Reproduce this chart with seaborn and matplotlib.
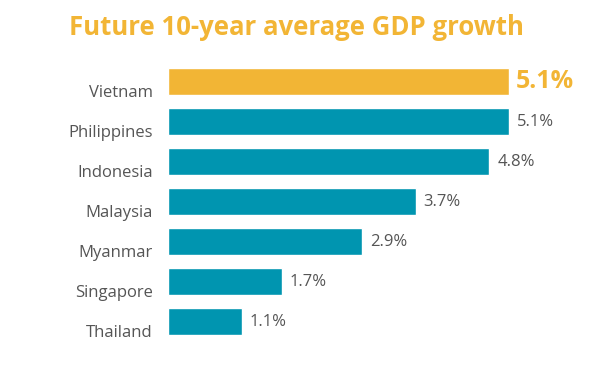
import matplotlib
matplotlib.use('Agg')
import matplotlib.pyplot as plt
import matplotlib.transforms as mtransforms
import seaborn as sns
import pandas as pd

countries = ['Vietnam', 'Philippines', 'Indonesia', 'Malaysia', 'Myanmar', 'Singapore', 'Thailand']
growth = [5.1, 5.1, 4.8, 3.7, 2.9, 1.7, 1.1]
highlight = 'Vietnam'

ORANGE = '#F2B535'
TEAL = '#0095B0'
GREY = '#555555'

sns.set_style('white')
plt.rcParams['font.family'] = ['Open Sans', 'DejaVu Sans']

df = pd.DataFrame({'country': countries, 'growth': growth})
palette = {c: (ORANGE if c == highlight else TEAL) for c in countries}

fig = plt.figure(figsize=(6.01, 3.70), dpi=100)
ax = fig.add_axes([168 / 601, 1 - 341.5 / 370, 415 / 601, 280 / 370])
sns.barplot(data=df, y='country', x='growth', hue='country', palette=palette,
            order=countries, width=0.675, legend=False, ax=ax, saturation=1)

ax.set_xlim(0, 6.2)
ax.set_xlabel('')
ax.set_ylabel('')
ax.set_xticks([])
sns.despine(ax=ax, left=True, bottom=True)
ax.tick_params(axis='y', length=0, pad=11)

offset = mtransforms.ScaledTranslation(0, -7 / 72, fig.dpi_scale_trans)
for lbl in ax.get_yticklabels():
    lbl.set_fontsize(12)
    lbl.set_color(GREY)
    lbl.set_transform(lbl.get_transform() + offset)

for i, (c, v) in enumerate(zip(countries, growth)):
    if c == highlight:
        ax.text(v + 0.1, i, f'{v}%', va='center', ha='left', fontsize=18,
                fontweight='bold', color=ORANGE)
    else:
        ax.text(v + 0.12, i, f'{v}%', va='center', ha='left', fontsize=12,
                color=GREY)

fig.text(0.493, 0.925, 'Future 10-year average GDP growth', ha='center', va='center',
         fontsize=18.5, fontweight='bold', color=ORANGE)

fig.savefig('out.png', dpi=100)
